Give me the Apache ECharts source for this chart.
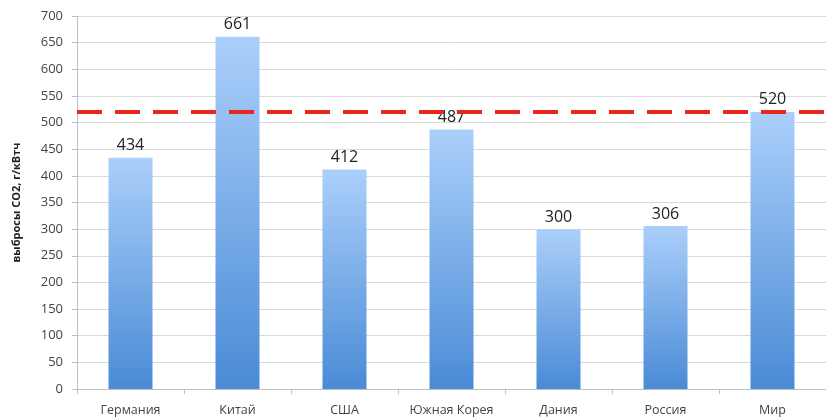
<!DOCTYPE html>
<html>
<head>
<meta charset="utf-8">
<script src="https://cdn.jsdelivr.net/npm/echarts@6/dist/echarts.min.js"></script>
<style>
html, body { margin: 0; padding: 0; background: #fff; }
#chart { width: 826px; height: 419px; }
</style>
</head>
<body>
<div id="chart"></div>
<script>
const CATEGORIES = ['Германия', 'Китай', 'США', 'Южная Корея', 'Дания', 'Россия', 'Мир'];
const EMISSIONS = [434, 661, 412, 487, 300, 306, 520];
const WORLD_LEVEL = 520;
const Y_NAME = 'выбросы CO2, г/кВтч';

const chart = echarts.init(document.getElementById('chart'));

chart.setOption({
    animation: false,
    grid: {
        left: 77,
        width: 754,
        top: 16,
        bottom: 30
    },
    xAxis: {
        type: 'category',
        data: CATEGORIES,
        axisLine: { lineStyle: { color: '#bfbfbf' } },
        axisTick: { show: true, length: 5, lineStyle: { color: '#bfbfbf' } },
        axisLabel: {
            interval: 0,
            color: '#444',
            fontSize: 12.5,
            fontFamily: 'Open Sans',
            margin: 15
        }
    },
    yAxis: {
        type: 'value',
        min: 0,
        max: 700,
        interval: 50,
        name: Y_NAME,
        nameLocation: 'middle',
        nameGap: 55,
        nameTextStyle: {
            color: '#222',
            fontSize: 11,
            fontWeight: 'bold',
            fontFamily: 'Open Sans'
        },
        axisLine: { show: true, lineStyle: { color: '#bfbfbf' } },
        axisTick: { show: true, length: 5, lineStyle: { color: '#bfbfbf' } },
        axisLabel: {
            color: '#444',
            fontSize: 13,
            fontFamily: 'Open Sans',
            margin: 14
        },
        splitLine: { lineStyle: { color: '#d9d9d9' } }
    },
    series: [{
        type: 'bar',
        data: EMISSIONS,
        barWidth: 44,
        itemStyle: {
            color: new echarts.graphic.LinearGradient(0, 0, 0, 1, [
                { offset: 0, color: '#abcffa' },
                { offset: 1, color: '#4a8bd6' }
            ])
        },
        label: {
            show: true,
            position: 'top',
            distance: 4,
            color: '#222',
            fontSize: 16,
            fontFamily: 'Open Sans'
        },
        markLine: {
            silent: true,
            symbol: 'none',
            label: { show: false },
            lineStyle: {
                color: '#e8261c',
                width: 4,
                type: [25, 13]
            },
            data: [{ yAxis: WORLD_LEVEL }]
        },
        z: 2
    }]
});
</script>
</body>
</html>
